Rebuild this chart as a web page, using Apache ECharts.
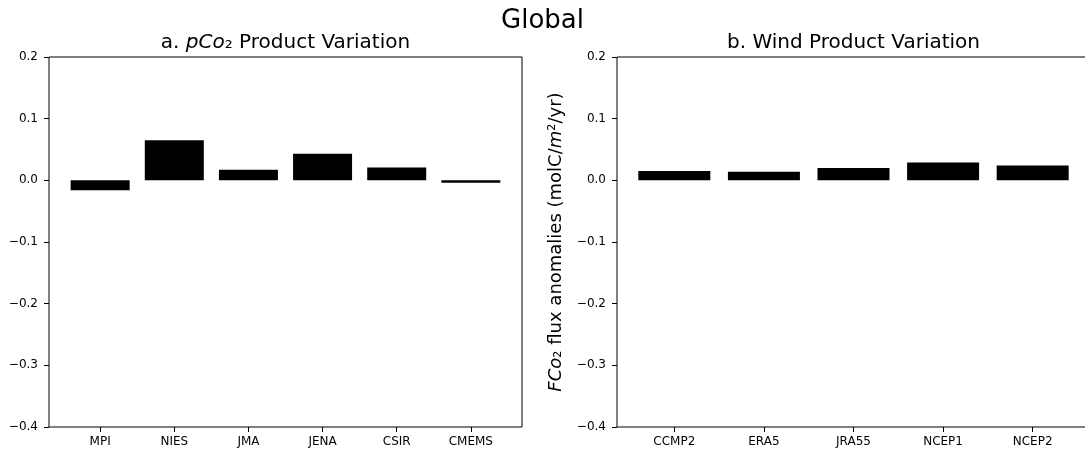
<!DOCTYPE html>
<html>
<head>
<meta charset="utf-8">
<script src="https://cdn.jsdelivr.net/npm/echarts@6/dist/echarts.min.js"></script>
<style>
  html, body { margin: 0; padding: 0; background: #fff; }
  #main { width: 1085px; height: 454px; }
</style>
</head>
<body>
<div id="main"></div>
<script>
// data
const pco2Products = ['MPI', 'NIES', 'JMA', 'JENA', 'CSIR', 'CMEMS'];
const pco2Values = [-0.016, 0.065, 0.017, 0.043, 0.021, -0.004];
const windProducts = ['CCMP2', 'ERA5', 'JRA55', 'NCEP1', 'NCEP2'];
const windValues = [0.015, 0.014, 0.020, 0.029, 0.024];

const font = 'DejaVu Sans';
const chart = echarts.init(document.getElementById('main'));

function fmtY(v) {
  return v.toFixed(1).replace('-', '\u2212');
}

function xAxisFor(names, idx) {
  const ticks = names.map((n, i) => i);
  return {
    type: 'value',
    gridIndex: idx,
    // matplotlib bar limits: -0.4 - 5% margin
    min: -0.4 - 0.05 * (names.length - 0.2),
    max: names.length - 0.6 + 0.05 * (names.length - 0.2),
    splitLine: { show: false },
    axisLine: { show: false, onZero: false },
    axisTick: { show: true, customValues: ticks, length: 5, lineStyle: { color: '#000', width: 1 } },
    axisLabel: {
      customValues: ticks,
      margin: 9,
      color: '#000',
      fontFamily: font,
      fontSize: 12,
      formatter: v => names[Math.round(v)]
    }
  };
}

function yAxisFor(idx, name) {
  return {
    type: 'value',
    gridIndex: idx,
    min: -0.4,
    max: 0.2,
    interval: 0.1,
    splitLine: { show: false },
    axisLine: { show: false, onZero: false },
    axisTick: { show: true, length: 5, lineStyle: { color: '#000', width: 1 } },
    axisLabel: { margin: 11, color: '#000', fontFamily: font, fontSize: 12, formatter: fmtY },
    name: name || '',
    nameLocation: 'middle',
    nameGap: 52,
    nameRotate: 90,
    nameTextStyle: {
      color: '#000',
      fontFamily: font,
      fontSize: 18,
      rich: { i: { fontStyle: 'italic', fontFamily: font, fontSize: 18, color: '#000' } }
    }
  };
}

const option = {
  animation: false,
  backgroundColor: '#fff',
  title: {
    text: 'Global',
    left: 'center',
    top: 3,
    textStyle: { fontFamily: font, fontSize: 26, fontWeight: 'normal', color: '#000' }
  },
  graphic: [
    {
      type: 'text', x: 285.5, y: 33,
      style: {
        text: 'a. {i|pCo}\u2082 Product Variation',
        fontFamily: font, fontSize: 20, fill: '#000', textAlign: 'center',
        rich: { i: { fontStyle: 'italic', fontFamily: font, fontSize: 20, color: '#000' } }
      }
    },
    {
      type: 'text', x: 853.5, y: 33,
      style: {
        text: 'b. Wind Product Variation',
        fontFamily: font, fontSize: 20, fill: '#000', textAlign: 'center'
      }
    }
  ],
  grid: [
    { left: 49, top: 57, width: 473, height: 370, outerBoundsMode: 'none', show: true, borderColor: '#000', borderWidth: 1, backgroundColor: 'transparent' },
    { left: 617, top: 57, width: 473, height: 370, outerBoundsMode: 'none', show: true, borderColor: '#000', borderWidth: 1, backgroundColor: 'transparent' }
  ],
  xAxis: [xAxisFor(pco2Products, 0), xAxisFor(windProducts, 1)],
  yAxis: [
    yAxisFor(0),
    yAxisFor(1, '{i|FCo}\u2082 flux anomalies (molC/{i|m}\u00b2/yr)')
  ],
  series: [
    {
      type: 'bar',
      xAxisIndex: 0, yAxisIndex: 0,
      barWidth: 59,
      itemStyle: { color: '#000' },
      data: pco2Values.map((v, i) => [i, v])
    },
    {
      type: 'bar',
      xAxisIndex: 1, yAxisIndex: 1,
      barWidth: 72,
      itemStyle: { color: '#000' },
      data: windValues.map((v, i) => [i, v])
    }
  ]
};

chart.setOption(option);
</script>
</body>
</html>
